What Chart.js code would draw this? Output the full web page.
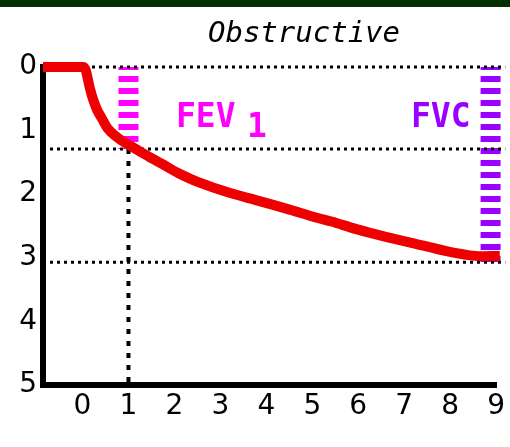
<!DOCTYPE html>
<html>
<head>
<meta charset="utf-8">
<script src="https://cdn.jsdelivr.net/npm/chart.js@4"></script>
<style>
  html, body { margin: 0; padding: 0; background: #fff; }
  canvas { display: block; background: linear-gradient(#003000 0 7px, #fff 7px); }
</style>
</head>
<body>
<canvas id="spiro" width="510" height="447"></canvas>
<script>
const chartTitle = 'Obstructive';
const xTicks = [0, 1, 2, 3, 4, 5, 6, 7, 8, 9];
const yTicks = [0, 1, 2, 3, 4, 5];

// exhaled volume (L) against time (s)
const curveTime   = [-0.86, 0.02, 0.07, 0.11, 0.17, 0.24, 0.32, 0.43, 0.54, 0.69, 0.86, 1.04, 1.23, 1.49, 1.77, 2.09, 2.52, 3.16, 3.81, 4.45, 5.10, 5.42, 5.96, 6.60, 7.25, 7.89, 8.54, 9.08];
const curveVolume = [0, 0, 0.05, 0.17, 0.36, 0.53, 0.68, 0.82, 0.96, 1.07, 1.16, 1.24, 1.32, 1.43, 1.54, 1.67, 1.81, 1.97, 2.10, 2.23, 2.37, 2.43, 2.55, 2.67, 2.78, 2.89, 2.97, 2.97];

const fev1Time = 1;
const fev1 = 1.29;
const fvcTime = 8.88;
const fvc = 3.07;

const xMin = -0.86;
const xMax = 9.0;
const xEdge = 9.2;   // dotted guides run a little past the axis end

const curve = curveTime.map((t, i) => ({ x: t, y: curveVolume[i] }));

const dotted = (pts) => ({
    data: pts,
    borderColor: '#000',
    borderWidth: 3,
    borderDash: [3, 4],
    pointRadius: 0,
    clip: false,
    order: 1
});

const annotate = {
    id: 'annotate',
    afterDraw(chart) {
        const ctx = chart.ctx;
        ctx.save();
        ctx.textBaseline = 'alphabetic';
        ctx.fillStyle = '#000';
        ctx.textAlign = 'center';
        ctx.font = 'italic 29px "DejaVu Sans Mono"';
        ctx.fillText(chartTitle, 304, 42);

        ctx.textAlign = 'left';
        ctx.font = 'bold 33px "DejaVu Sans Mono"';
        ctx.fillStyle = '#ff00ff';
        ctx.fillText('FEV', 176, 127);
        ctx.fillText('1', 247, 137);
        ctx.fillStyle = '#9900ff';
        ctx.fillText('FVC', 411, 127);
        ctx.restore();
    }
};

const tickFont = { family: 'DejaVu Sans', size: 28 };

new Chart(document.getElementById('spiro'), {
    type: 'line',
    data: {
        datasets: [
            {
                data: curve,
                borderColor: '#ee0000',
                borderWidth: 10,
                pointRadius: 0,
                tension: 0.3,
                clip: false,
                order: 0
            },
            dotted([{ x: xMin, y: 0 }, { x: xEdge, y: 0 }]),
            dotted([{ x: xMin, y: fev1 }, { x: xEdge, y: fev1 }]),
            dotted([{ x: xMin, y: fvc }, { x: xEdge, y: fvc }]),
            {
                data: [{ x: fev1Time, y: fev1 }, { x: fev1Time, y: 5 }],
                borderColor: '#000',
                borderWidth: 4,
                borderDash: [5, 7],
                pointRadius: 0,
                order: 1
            },
            {
                data: [{ x: fev1Time, y: 0 }, { x: fev1Time, y: fev1 }],
                borderColor: '#ff00ff',
                borderWidth: 20,
                borderDash: [6, 6],
                borderDashOffset: 3,
                pointRadius: 0,
                order: 2
            },
            {
                data: [{ x: fvcTime, y: 0 }, { x: fvcTime, y: fvc }],
                borderColor: '#9900ff',
                borderWidth: 20,
                borderDash: [6, 6],
                borderDashOffset: 3,
                pointRadius: 0,
                clip: false,
                order: 2
            }
        ]
    },
    options: {
        responsive: false,
        animation: false,
        devicePixelRatio: 1,
        layout: { padding: { top: 67, right: 8, left: 0, bottom: 0 } },
        plugins: {
            legend: { display: false },
            tooltip: { enabled: false },
            title: { display: false }
        },
        scales: {
            x: {
                type: 'linear',
                min: xMin,
                max: xMax,
                afterBuildTicks: s => { s.ticks = xTicks.map(v => ({ value: v })); },
                afterFit: s => { s.height = 62; },
                grid: { display: false, drawTicks: false },
                border: { display: true, color: '#000', width: 6 },
                ticks: { color: '#000', font: tickFont, padding: 5, autoSkip: false, maxRotation: 0 }
            },
            y: {
                type: 'linear',
                reverse: true,
                min: 0,
                max: 5,
                afterBuildTicks: s => { s.ticks = yTicks.map(v => ({ value: v })); },
                afterFit: s => { s.width = 43; },
                grid: { display: false, drawTicks: false },
                border: { display: true, color: '#000', width: 6 },
                ticks: { color: '#000', font: tickFont, padding: 6 }
            }
        }
    },
    plugins: [annotate]
});
</script>
</body>
</html>
